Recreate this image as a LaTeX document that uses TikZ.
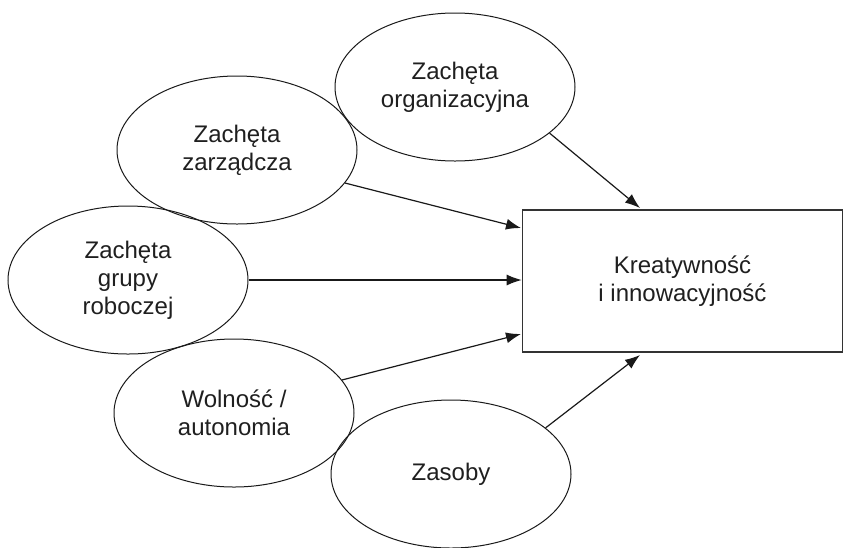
\documentclass[tikz,border=0pt]{standalone}
\usepackage{fontspec}
\setmainfont{Liberation Sans}
\usetikzlibrary{shapes.geometric,arrows.meta}
\begin{document}
\begin{tikzpicture}[x=1pt,y=-1pt,
  txt/.style={align=center,font=\fontsize{24}{28}\selectfont,text=black!88},
  oval/.style={txt,ellipse,draw=black!90,line width=1pt,minimum width=240pt,minimum height=148pt,inner sep=0pt},
  box/.style={txt,rectangle,draw=black!80,line width=1.6pt,minimum width=320pt,minimum height=142pt,inner sep=0pt},
  arr/.style={-{Latex[length=15pt,width=11pt]},line width=1.2pt,draw=black!90}]
\useasboundingbox (0,0) rectangle (845,547);
\node[box]  (K)  at (682.5,281) {Kreatywność\\i innowacyjność};
\node[oval] (e1) at (455,87)  {Zachęta\\organizacyjna};
\node[oval] (e2) at (237,150) {Zachęta\\zarządcza};
\node[oval] (e3) at (128,280) {Zachęta\\grupy\\roboczej};
\node[oval] (e4) at (234,413) {Wolność /\\autonomia};
\node[oval] (e5) at (451,474) {Zasoby};
\coordinate (t1) at (640,208);
\coordinate (t2) at (521,228);
\coordinate (t4) at (521,334);
\coordinate (t5) at (640,355);
\draw[arr] (e1.-26) -- (t1);
\draw[arr] (e2.-17) -- (t2);
\draw[arr] (e3.east) -- (e3.east -| K.west);
\draw[arr] (e4.17) -- (t4);
\draw[arr] (e5.26) -- (t5);
\end{tikzpicture}
\end{document}
